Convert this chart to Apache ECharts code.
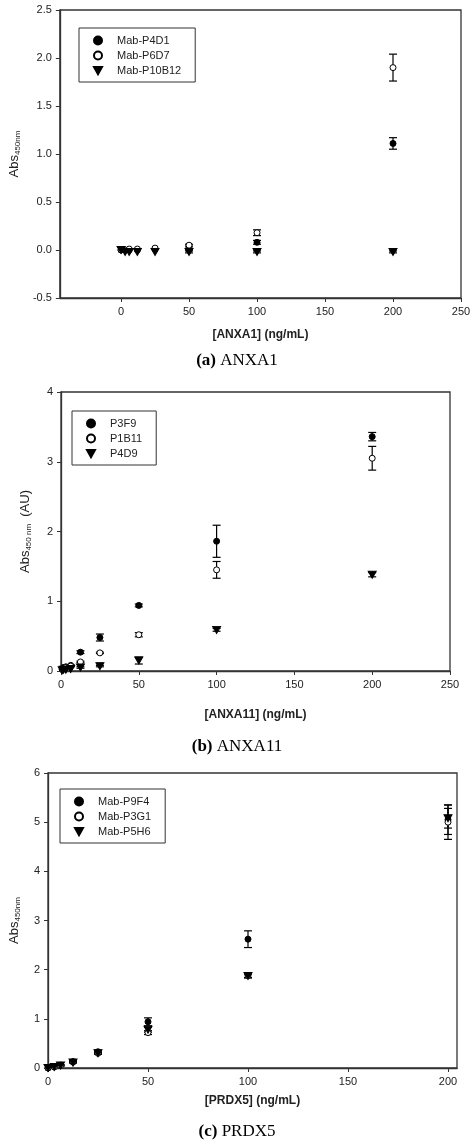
<!DOCTYPE html>
<html><head><meta charset="utf-8">
<script src="https://cdn.jsdelivr.net/npm/echarts@6/dist/echarts.min.js"></script>
<style>html,body{margin:0;padding:0;background:#fff}#c{width:474px;height:1148px}</style>
</head><body><div id="c"></div>
<script>
const xA = [0, 3, 6, 12, 25, 50, 100, 200];
const aP4D1 = [0, 0, 0, 0, 0.01, 0.01, 0.08, 1.11];
const aP4D1Err = [0, 0, 0, 0, 0, 0.01, 0.02, 0.06];
const aP6D7 = [0, 0, 0.01, 0.01, 0.02, 0.05, 0.18, 1.90];
const aP6D7Err = [0, 0, 0, 0, 0, 0.01, 0.03, 0.14];
const aP10B12 = [0, -0.02, -0.02, -0.02, -0.02, -0.02, -0.02, -0.02];
const aP10B12Err = [0, 0, 0, 0, 0, 0.01, 0.01, 0.01];

const xB = [0.78, 1.56, 3.125, 6.25, 12.5, 25, 50, 100, 200];
const bP3F9 = [0.03, 0.05, 0.06, 0.08, 0.27, 0.48, 0.94, 1.86, 3.36];
const bP3F9Err = [0, 0, 0, 0.01, 0.02, 0.05, 0.02, 0.23, 0.06];
const bP1B11 = [0.02, 0.04, 0.05, 0.07, 0.13, 0.26, 0.52, 1.45, 3.05];
const bP1B11Err = [0, 0, 0, 0.01, 0.01, 0.01, 0.03, 0.12, 0.17];
const bP4D9 = [0.01, 0.02, 0.02, 0.03, 0.05, 0.07, 0.15, 0.59, 1.38];
const bP4D9Err = [0, 0, 0, 0, 0.01, 0.01, 0.05, 0.02, 0.03];

const xC = [0, 3.125, 6.25, 12.5, 25, 50, 100, 200];
const cP9F4 = [0, 0.03, 0.06, 0.13, 0.33, 0.94, 2.62, 5.05];
const cP9F4Err = [0, 0, 0.01, 0.02, 0.03, 0.08, 0.17, 0.30];
const cP3G1 = [0, 0.02, 0.05, 0.12, 0.30, 0.72, 1.88, 5.00];
const cP3G1Err = [0, 0, 0.01, 0.01, 0.02, 0.04, 0.04, 0.35];
const cP5H6 = [0, 0.02, 0.05, 0.11, 0.30, 0.78, 1.87, 5.08];
const cP5H6Err = [0, 0, 0.01, 0.01, 0.02, 0.05, 0.04, 0.20];

const ticksA = [0, 50, 100, 150, 200, 250];
const ticksC = [0, 50, 100, 150, 200];

const F = 'Liberation Sans';
const chart = echarts.init(document.getElementById('c'));
const TRI = 'path://M0,0L10,0L5,9Z';
const sym = {circle: ['circle', '#000'], empty: ['circle', '#fff'], tri: [TRI, '#000']};

function pts(x, y) { return x.map((v, i) => [v, y[i]]); }
function errData(x, y, e) { return x.map((v, i) => [v, y[i] - e[i], y[i] + e[i]]); }
function errSeries(idx, x, y, e) {
  return {type: 'custom', xAxisIndex: idx, yAxisIndex: idx, z: 1, silent: true,
    data: errData(x, y, e),
    renderItem: (p, api) => {
      if (api.value(2) - api.value(1) < 0.001) return null;
      const lo = api.coord([api.value(0), api.value(1)]);
      const hi = api.coord([api.value(0), api.value(2)]);
      const st = {stroke: '#000', lineWidth: 1.2};
      return {type: 'group', children: [
        {type: 'line', shape: {x1: lo[0], y1: lo[1], x2: hi[0], y2: hi[1]}, style: st},
        {type: 'line', shape: {x1: lo[0] - 4, y1: lo[1], x2: lo[0] + 4, y2: lo[1]}, style: st},
        {type: 'line', shape: {x1: hi[0] - 4, y1: hi[1], x2: hi[0] + 4, y2: hi[1]}, style: st}]};
    }};
}
function sc(idx, name, x, y, k) {
  const s = sym[k];
  return {type: 'scatter', name, xAxisIndex: idx, yAxisIndex: idx, z: 3, data: pts(x, y),
    symbol: s[0], symbolSize: k === 'tri' ? [8, 7] : 6,
    itemStyle: {color: s[1], borderColor: '#000', borderWidth: 1, opacity: 1}};
}
const axisCommon = {axisLine: {show: true, onZero: false, lineStyle: {color: '#333', width: 1.3}},
  axisTick: {show: true, inside: false, length: 4, lineStyle: {color: '#333'}}, splitLine: {show: false},
  axisLabel: {color: '#222', fontFamily: F, fontSize: 11}};
function xAx(idx, min, max, interval, name, gap, custom) {
  const a = Object.assign({}, axisCommon, {type: 'value', gridIndex: idx, min, max, interval,
    name, nameLocation: 'middle', nameGap: gap,
    nameTextStyle: {fontFamily: F, fontWeight: 'bold', fontSize: 12, color: '#222'}});
  if (custom) {
    a.axisLabel = Object.assign({}, axisCommon.axisLabel, {customValues: custom});
    a.axisTick = Object.assign({}, axisCommon.axisTick, {customValues: custom});
  }
  return a;
}
function yAx(idx, min, max, interval, name, gap, fmt) {
  return Object.assign({}, axisCommon, {type: 'value', gridIndex: idx, min, max, interval,
    name, nameLocation: 'middle', nameGap: gap,
    axisLabel: Object.assign({}, axisCommon.axisLabel, fmt ? {formatter: fmt} : {}),
    nameTextStyle: {fontFamily: F, fontSize: 13, color: '#222',
      rich: {b: {fontFamily: F, fontSize: 13, color: '#222'}, s: {fontFamily: F, fontSize: 8, color: '#222', verticalAlign: 'bottom', padding: [7, 0, 0, 0]}}}});
}
function leg(names, left, top) {
  return {orient: 'vertical', left, top, itemWidth: 8, itemHeight: 8, itemGap: 4,
    data: names.map((n, i) => ({name: n, icon: i === 2 ? TRI : 'circle'})),
    borderColor: '#333', borderWidth: 1, padding: [7, 14, 6, 14], borderRadius: 0,
    textStyle: {fontFamily: F, fontSize: 11, color: '#222', padding: [0, 0, 0, 10]}};
}
const cap = (y, l, t) => ({type: 'text', left: 'center', top: y,
  style: {text: '{b|' + l + '} ' + t, fill: '#000', font: '17px "Liberation Serif"',
    rich: {b: {font: 'bold 17px "Liberation Serif"', fill: '#000'}}}});
const box = {show: true, borderColor: '#333', borderWidth: 1.3};

chart.setOption({
  animation: false,
  grid: [
    Object.assign({left: 59, width: 402, top: 10, height: 288}, box),
    Object.assign({left: 61, width: 389, top: 392, height: 279}, box),
    Object.assign({left: 48, width: 409, top: 773, height: 295}, box)],
  xAxis: [
    xAx(0, -45, 250, 50, '[ANXA1] (ng/mL)', 31, ticksA),
    xAx(1, 0, 250, 50, '[ANXA11] (ng/mL)', 38, null),
    xAx(2, 0, 204.5, 50, '[PRDX5] (ng/mL)', 27, ticksC)],
  yAxis: [
    yAx(0, -0.5, 2.5, 0.5, '{b|Abs}{s|450nm}', 34, v => v.toFixed(1)),
    yAx(1, 0, 4, 1, '{b|Abs}{s|450 nm}{b|  (AU)}', 28, null),
    yAx(2, 0, 6, 1, '{b|Abs}{s|450nm}', 26, null)],
  legend: [
    leg(['Mab-P4D1', 'Mab-P6D7', 'Mab-P10B12'], 79, 28),
    leg(['P3F9', 'P1B11', 'P4D9'], 72, 411),
    leg(['Mab-P9F4', 'Mab-P3G1', 'Mab-P5H6'], 60, 789)],
  graphic: [cap(352, '(a)', 'ANXA1'), cap(738, '(b)', 'ANXA11'), cap(1123, '(c)', 'PRDX5')],
  series: [
    errSeries(0, xA, aP4D1, aP4D1Err), errSeries(0, xA, aP6D7, aP6D7Err), errSeries(0, xA, aP10B12, aP10B12Err),
    sc(0, 'Mab-P4D1', xA, aP4D1, 'circle'), sc(0, 'Mab-P6D7', xA, aP6D7, 'empty'), sc(0, 'Mab-P10B12', xA, aP10B12, 'tri'),
    errSeries(1, xB, bP3F9, bP3F9Err), errSeries(1, xB, bP1B11, bP1B11Err), errSeries(1, xB, bP4D9, bP4D9Err),
    sc(1, 'P3F9', xB, bP3F9, 'circle'), sc(1, 'P1B11', xB, bP1B11, 'empty'), sc(1, 'P4D9', xB, bP4D9, 'tri'),
    errSeries(2, xC, cP9F4, cP9F4Err), errSeries(2, xC, cP3G1, cP3G1Err), errSeries(2, xC, cP5H6, cP5H6Err),
    sc(2, 'Mab-P9F4', xC, cP9F4, 'circle'), sc(2, 'Mab-P3G1', xC, cP3G1, 'empty'), sc(2, 'Mab-P5H6', xC, cP5H6, 'tri')]
});
</script></body></html>
